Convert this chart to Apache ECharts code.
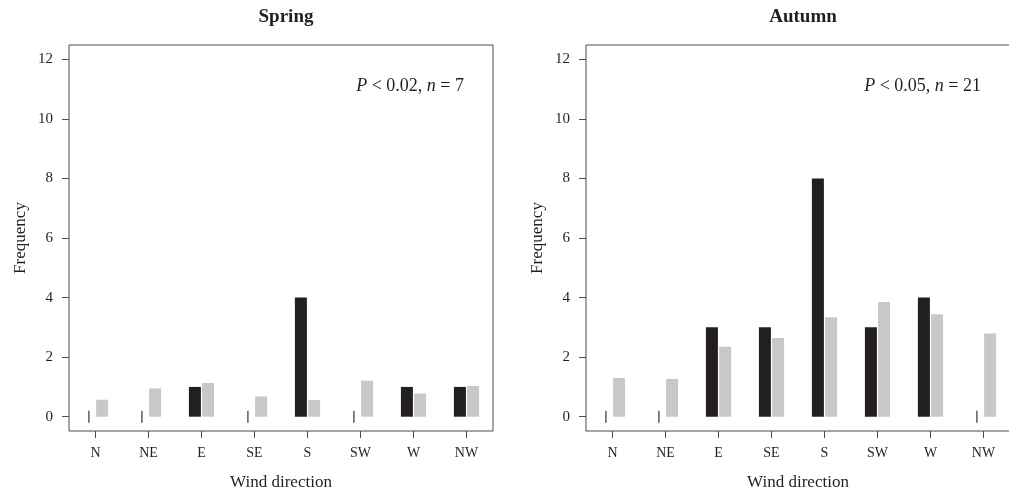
<!DOCTYPE html>
<html>
<head>
<meta charset="utf-8">
<style>
  html, body { margin: 0; padding: 0; background: #fff; }
  #chart { width: 1009px; height: 493px; }
</style>
<script src="https://cdn.jsdelivr.net/npm/echarts@6/dist/echarts.min.js"></script>
</head>
<body>
<div id="chart"></div>
<script>
// ---- Data ----
var categories = ['N', 'NE', 'E', 'SE', 'S', 'SW', 'W', 'NW'];
var yTicks = [0, 2, 4, 6, 8, 10, 12];

var springObserved = [0, 0, 1, 0, 4, 0, 1, 1];
var springExpected = [0.57, 0.95, 1.13, 0.68, 0.56, 1.21, 0.78, 1.03];

var autumnObserved = [0, 0, 3, 3, 8, 3, 4, 0];
var autumnExpected = [1.30, 1.27, 2.35, 2.64, 3.34, 3.85, 3.44, 2.79];

var panelTitles = ['Spring', 'Autumn'];
var panelStats = ['{i|P} < 0.02, {i|n} = 7', '{i|P} < 0.05, {i|n} = 21'];

// ---- Styling ----
var FONT = '"Liberation Serif", "DejaVu Serif", "Times New Roman", serif';
var TEXT = '#231f20';
var AXIS = '#4a4a4a';
var BLACK = '#231f20';
var GREY = '#c8c8c8';

var chart = echarts.init(document.getElementById('chart'), null, { renderer: 'canvas' });

var grids = [
  { left: 69, top: 45, width: 424, height: 386 },
  { left: 586, top: 45, width: 424, height: 386 }
];

function zeroMarks(arr) {
  var out = [];
  arr.forEach(function (v, i) { if (v === 0) out.push([i, 0]); });
  return out;
}

var option = {
  animation: false,
  backgroundColor: '#ffffff',
  title: [],
  grid: grids.map(function (g) {
    return Object.assign({
      show: true, borderColor: AXIS, borderWidth: 1, backgroundColor: 'transparent',
      containLabel: false, outerBoundsMode: 'none'
    }, g);
  }),
  xAxis: [],
  yAxis: [],
  series: []
};

var panels = [
  { obs: springObserved, exp: springExpected },
  { obs: autumnObserved, exp: autumnExpected }
];

panels.forEach(function (p, k) {
  var g = grids[k];
  option.title.push({
    text: panelTitles[k],
    left: g.left + g.width / 2,
    textAlign: 'center',
    top: 3,
    textStyle: { fontFamily: FONT, fontSize: 19, fontWeight: 'bold', color: TEXT }
  });
  option.title.push({
    text: panelStats[k],
    right: 1009 - (g.left + g.width - 24),
    top: 72,
    textStyle: {
      fontFamily: FONT, fontSize: 18, fontWeight: 'normal', color: TEXT,
      rich: { i: { fontFamily: FONT, fontSize: 18, fontStyle: 'italic', color: TEXT } }
    }
  });
  option.xAxis.push({
    type: 'category',
    gridIndex: k,
    data: categories,
    boundaryGap: true,
    name: 'Wind direction',
    nameLocation: 'middle',
    nameGap: 43,
    nameTextStyle: { fontFamily: FONT, fontSize: 17, color: TEXT },
    axisLine: { show: false, onZero: false },
    axisTick: { show: true, alignWithLabel: true, length: 7, lineStyle: { color: AXIS, width: 1 } },
    axisLabel: { fontFamily: FONT, fontSize: 14, color: TEXT, margin: 15, interval: 0 },
    splitLine: { show: false }
  });
  option.yAxis.push({
    type: 'value',
    gridIndex: k,
    min: -0.48,
    max: 12.48,
    name: 'Frequency',
    nameLocation: 'middle',
    nameGap: 40,
    nameRotate: 90,
    nameTextStyle: { fontFamily: FONT, fontSize: 17, color: TEXT },
    axisLine: { show: false },
    axisTick: { show: true, length: 7, customValues: yTicks, lineStyle: { color: AXIS, width: 1 } },
    axisLabel: { fontFamily: FONT, fontSize: 15, color: TEXT, margin: 16, customValues: yTicks },
    splitLine: { show: false }
  });
  option.series.push({
    type: 'bar',
    name: 'Observed',
    xAxisIndex: k, yAxisIndex: k,
    data: p.obs,
    barWidth: 12,
    barGap: '10%',
    itemStyle: { color: BLACK },
    silent: true
  });
  option.series.push({
    type: 'bar',
    name: 'Expected',
    xAxisIndex: k, yAxisIndex: k,
    data: p.exp,
    barWidth: 12,
    barGap: '10%',
    itemStyle: { color: GREY },
    silent: true
  });
  option.series.push({
    type: 'scatter',
    name: 'Zero',
    xAxisIndex: k, yAxisIndex: k,
    data: zeroMarks(p.obs),
    symbol: 'rect',
    symbolSize: [1.4, 12],
    symbolOffset: [-6.6, 0],
    itemStyle: { color: BLACK },
    silent: true,
    z: 5
  });
});

chart.setOption(option);
</script>
</body>
</html>
